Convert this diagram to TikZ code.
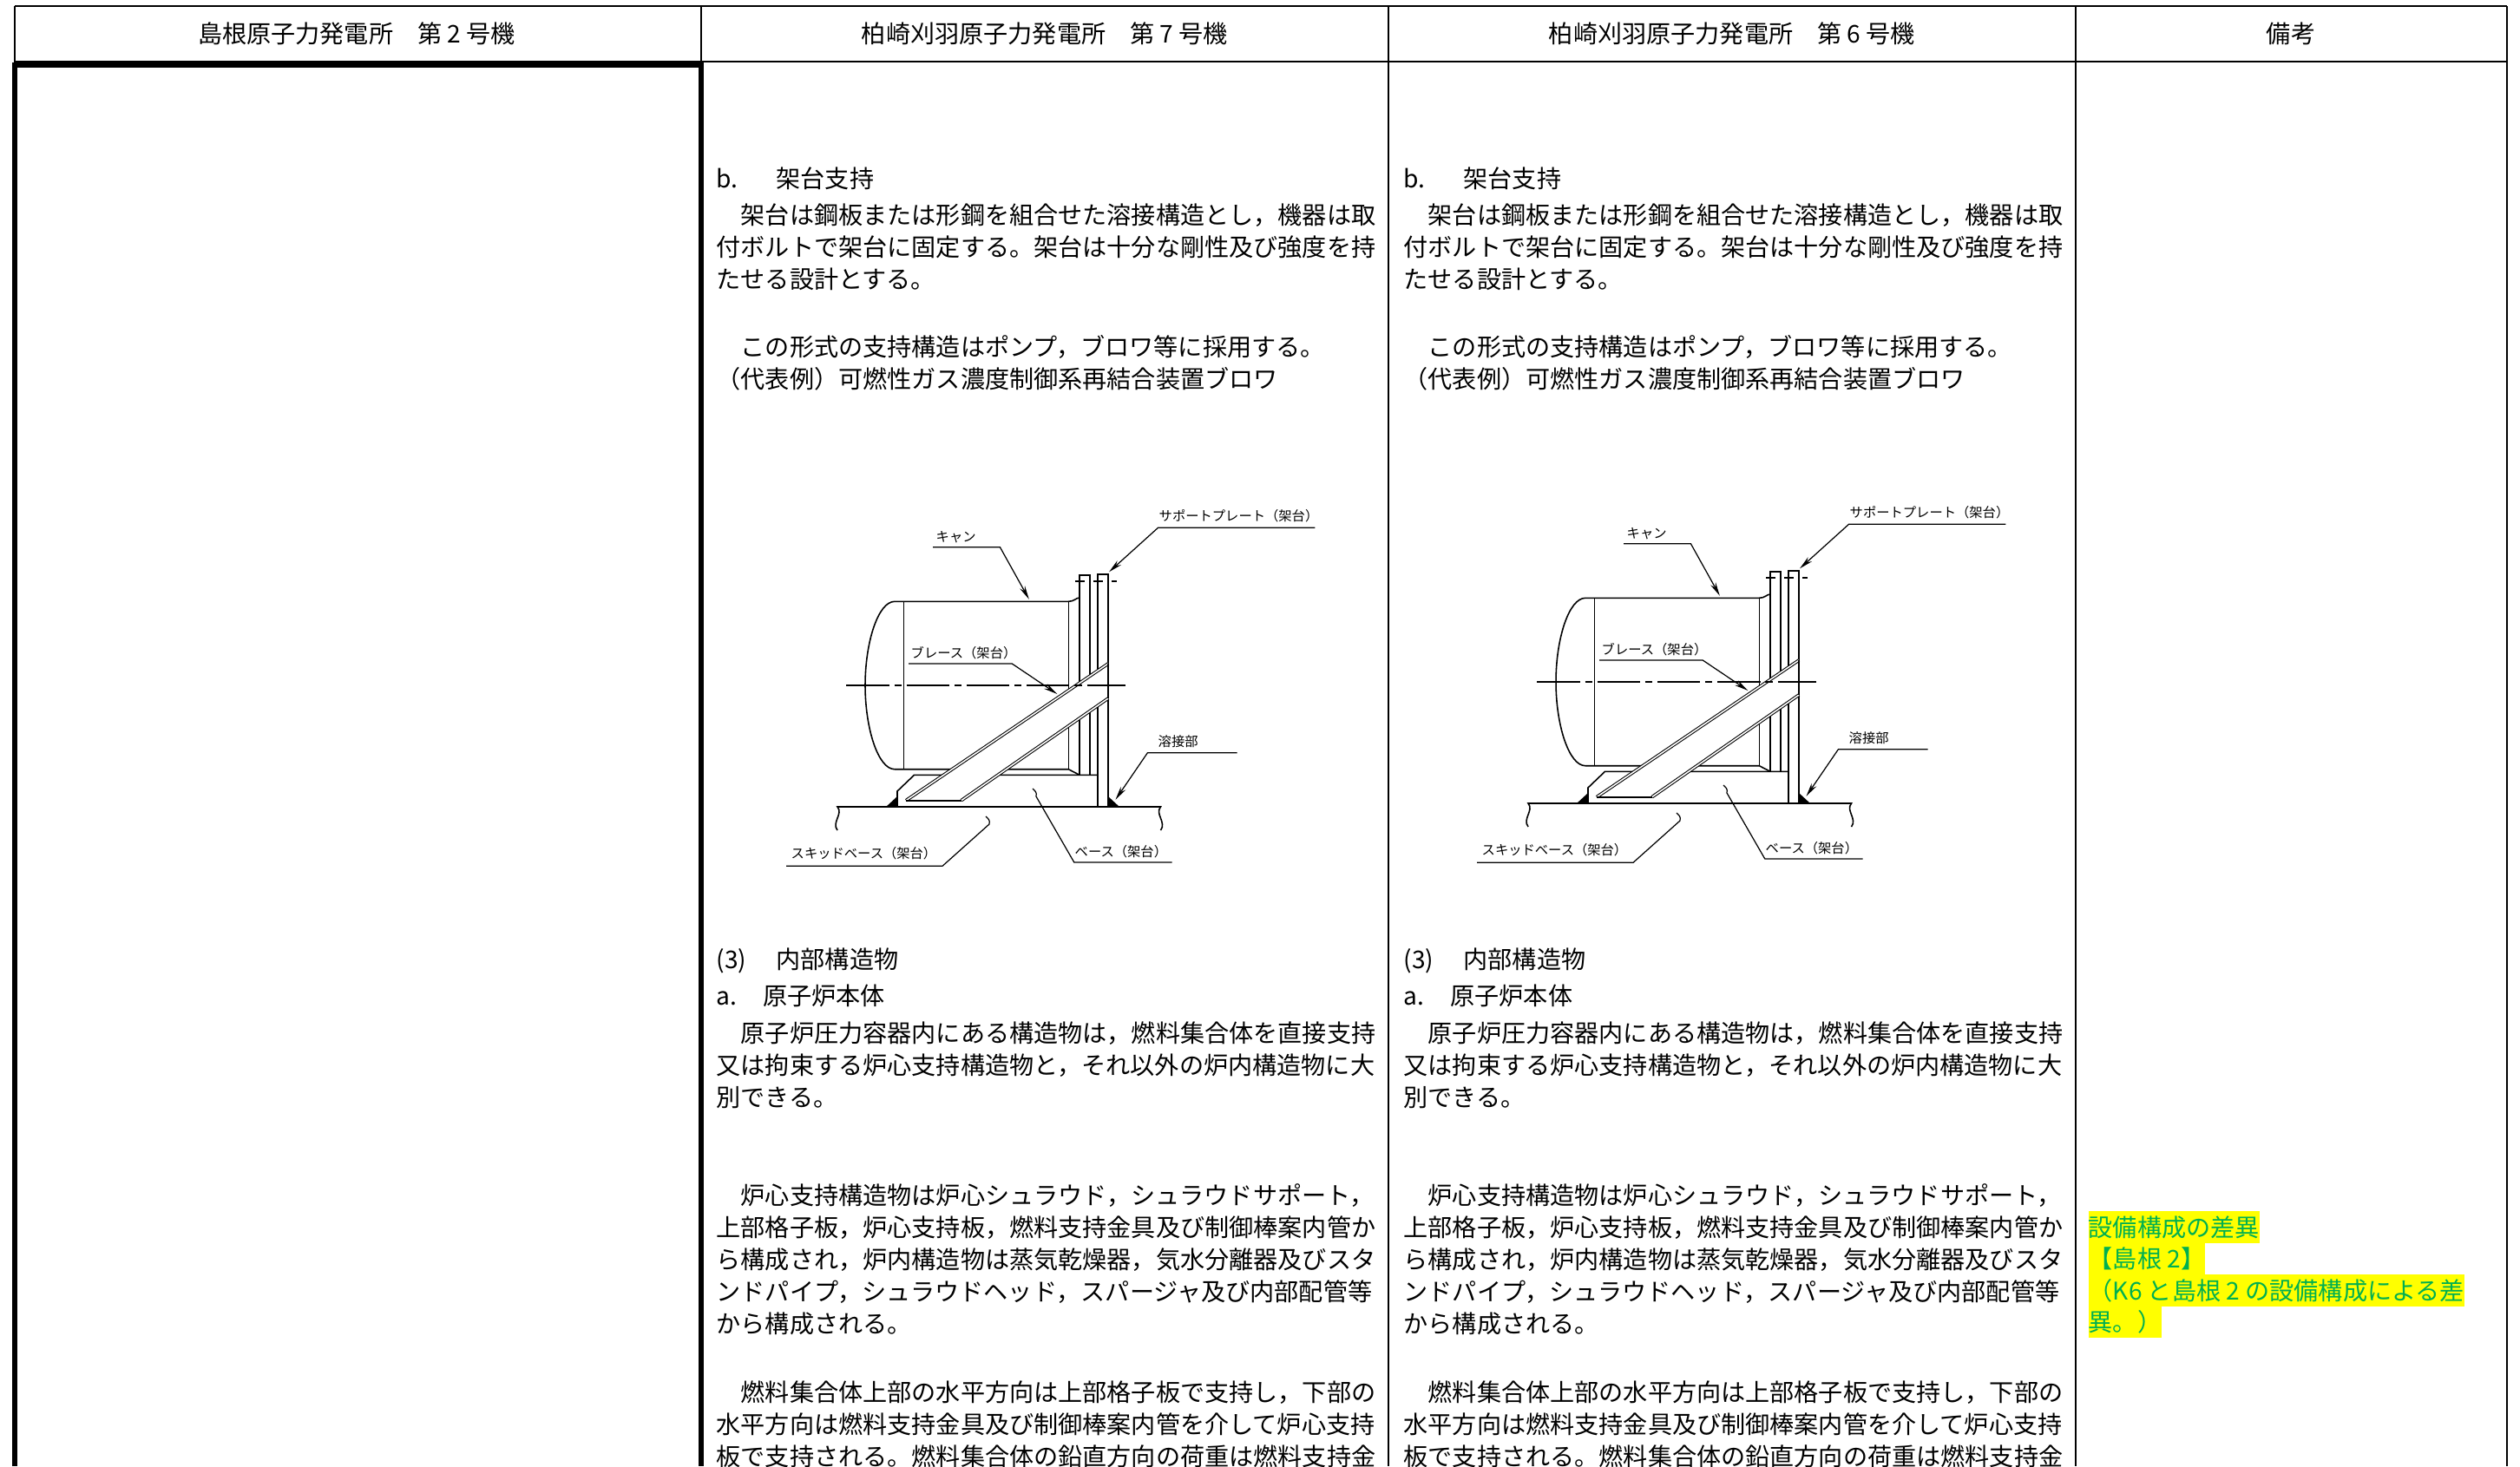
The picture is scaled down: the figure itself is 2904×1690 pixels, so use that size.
\documentclass[tikz,border=0pt]{standalone}
\usepackage{fontspec}
\setmainfont{Noto Sans CJK JP}
\usepackage{tikz}
\usetikzlibrary{arrows.meta}
\definecolor{notegreen}{RGB}{0,176,80}
\definecolor{hl}{RGB}{255,255,0}

\begin{document}
\begin{tikzpicture}[x=0.01cm, y=-0.01cm,
  thinrule/.style={line width=0.7pt},
  thickrule/.style={line width=1.7pt},
  txtline/.style={anchor=west, inner sep=0pt, font=\fontsize{8pt}{9pt}\selectfont, text height=7pt, text depth=1pt},
  head/.style={inner sep=0pt, font=\fontsize{8pt}{9pt}\selectfont, text height=7pt, text depth=1pt},
  hilite/.style={txtline, fill=hl, text=notegreen, text height=8.2pt, text depth=2.2pt},
  part/.style={line width=0.45pt},
  lbl/.style={anchor=west, inner sep=0pt, font=\fontsize{4.35pt}{5pt}\selectfont},
  leader/.style={line width=0.35pt}]
\useasboundingbox (0,0) rectangle (2904,1690);
% table
\draw[thinrule] (17,7) -- (2889,7) (17,71) -- (2889,71);
\draw[thinrule] (17,7) -- (17,72) (808,7) -- (808,72);
\draw[thinrule] (1600,7) -- (1600,1690) (2392,7) -- (2392,1690) (2889,7) -- (2889,1690);
\draw[thickrule] (17,1690) -- (17,75) -- (808,75) -- (808,1690);
\node[head] (h1) at (411,39) {島根原子力発電所　第 2 号機};
\node[head] (h2) at (1204,39) {柏崎刈羽原子力発電所　第 7 号機};
\node[head] (h3) at (1996,39) {柏崎刈羽原子力発電所　第 6 号機};
\node[head] (h4) at (2640,39) {備考};
% text of the two K columns
\foreach \pl/\dx in {K7/0, K6/792}{
\foreach \i/\y/\t in {1/206/{\makebox[2.45em][l]{b.}架台支持},
  2/248/{　架台は鋼板または形鋼を組合せた溶接構造とし，機器は取},
  3/285/{付ボルトで架台に固定する。架台は十分な剛性及び強度を持},
  4/322/{たせる設計とする。},
  5/400/{　この形式の支持構造はポンプ，ブロワ等に採用する。},
  6/437/{（代表例）可燃性ガス濃度制御系再結合装置ブロワ},
  7/1106/{\makebox[2.45em][l]{(3)}内部構造物},
  8/1148/{\makebox[1.91em][l]{a.}原子炉本体},
  9/1191/{　原子炉圧力容器内にある構造物は，燃料集合体を直接支持},
  10/1228/{又は拘束する炉心支持構造物と，それ以外の炉内構造物に大},
  11/1265/{別できる。},
  12/1378/{　炉心支持構造物は炉心シュラウド，シュラウドサポート，},
  13/1415/{上部格子板，炉心支持板，燃料支持金具及び制御棒案内管か},
  14/1452/{ら構成され，炉内構造物は蒸気乾燥器，気水分離器及びスタ},
  15/1489/{ンドパイプ，シュラウドヘッド，スパージャ及び内部配管等},
  16/1526/{から構成される。},
  17/1605/{　燃料集合体上部の水平方向は上部格子板で支持し，下部の},
  18/1642/{水平方向は燃料支持金具及び制御棒案内管を介して炉心支持},
  19/1679/{板で支持される。燃料集合体の鉛直方向の荷重は燃料支持金}}{
\node[txtline] (\pl t\i) at (825+\dx,\y) {\t};
}
}
% skid mounted blower, drawn in both columns
\foreach \pl/\dx/\dy in {K7/0/0, K6/796/-4}{
\begin{scope}[shift={(\dx,\dy)}]
\draw[part] (965,957) .. controls (958,948) and (972,938) .. (965,930) -- (1337.5,930) .. controls (1330.5,938) and (1344.5,948) .. (1337.5,957);
\draw[part] (1031,693.3) -- (1231.3,693.3) .. controls (1238,693.3) and (1240,689) .. (1244,689);
\draw[part] (1031,886.7) -- (1231.3,886.7) -- (1244,893.3);
\draw[part] (1031,693.3) .. controls (1012,693.3) and (997,740) .. (997,790) .. controls (997,840) and (1012,886.7) .. (1031,886.7);
\draw[part] (1041.3,693.3) -- (1041.3,886.7) (1231.3,693.3) -- (1231.3,886.7);
\draw[part] (1244,662.7) rectangle (1256,893.3);
\draw[part] (1265,662) rectangle (1277,930);
\draw[leader, dashed] (1239,670) -- (1287,670);
\draw[part] (1034,930) -- (1034,912) -- (1053.5,893.3) -- (1265,893.3);
\fill (1021,930) -- (1034,930) -- (1034,918) -- cycle;
\fill (1277,918) -- (1277,930) -- (1290,930) -- cycle;
\fill[white] (1044,922.7) -- (1277,765) -- (1277,805) -- (1107.7,922.7) -- cycle;
\draw[double, double distance=0.45pt, line width=0.3pt] (1044,922.7) -- (1277,765) (1107.7,922.7) -- (1277,805);
\draw[part] (1044,922.7) -- (1107.7,922.7) (1277,765) -- (1277,805);
\draw[leader, dash pattern=on 14pt off 1.7pt on 2.3pt off 1.7pt] (975.4,790) -- (1297.2,790);
\foreach \nm/\txt/\tx/\ty/\sx/\cx/\ly/\ex/\ey in {
  can/キャン/1078/619/1075/1152.4/630.7/1185.8/690.7,
  sp/サポートプレート（架台）/1335/595/1515.4/1334.5/608.3/1278/659.3,
  br/ブレース（架台）/1049/752.7/1047/1166.2/765/1218.3/800,
  we/溶接部/1334/855/1425.6/1322.4/867.7/1285.5/921.7}{
\node[lbl] (\pl\nm) at (\tx,\ty) {\txt};
\coordinate (\pl\nm-s) at (\sx,\ly);
\coordinate (\pl\nm-c) at (\cx,\ly);
\coordinate (\pl\nm-t) at (\ex,\ey);
\draw[leader, -{Stealth[length=4.5pt, width=1.9pt]}] (\pl\nm-s) -- (\pl\nm-c) -- (\pl\nm-t);
}
\foreach \nm/\txt/\tx/\ty/\sx/\cx/\ly/\ex/\ey in {
  sk/スキッドベース（架台）/911/983.3/906/1086/998.3/1140/950,
  bs/ベース（架台）/1238/982/1350.6/1237.8/994/1194/918}{
\node[lbl] (\pl\nm) at (\tx,\ty) {\txt};
\coordinate (\pl\nm-s) at (\sx,\ly);
\coordinate (\pl\nm-c) at (\cx,\ly);
\coordinate (\pl\nm-t) at (\ex,\ey);
\draw[leader] (\pl\nm-s) -- (\pl\nm-c) -- (\pl\nm-t) .. controls +(1,-5) and +(3,3) .. +(-4,-9);
}
\end{scope}
}
% remarks column
\node[hilite] (n1) at (2406,1414.5) {設備構成の差異};
\node[hilite] (n2) at (2406,1451) {【島根 2】};
\node[hilite] (n3) at (2406,1487.5) {（K6 と島根 2 の設備構成による差};
\node[hilite] (n4) at (2406,1524) {異。）};
\end{tikzpicture}
\end{document}
